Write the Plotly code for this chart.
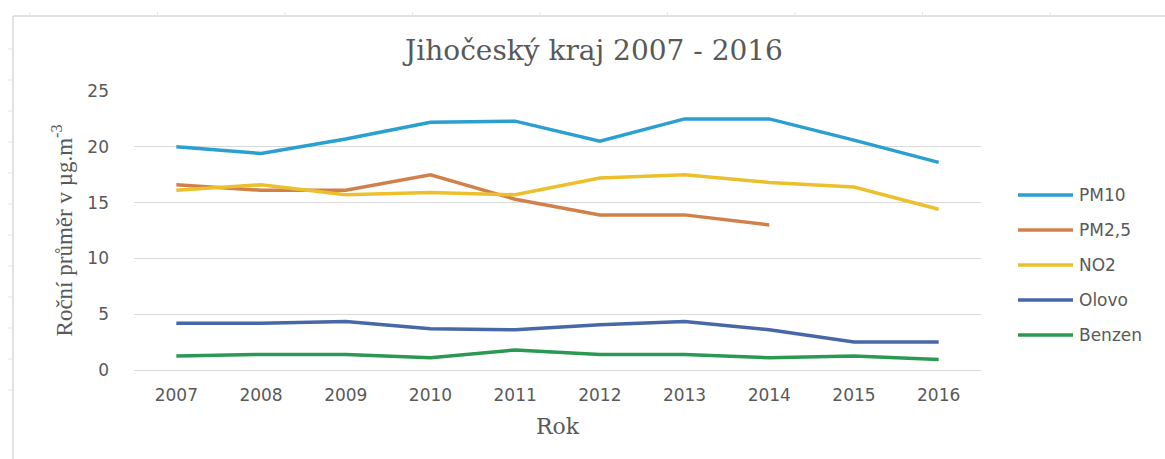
import plotly.graph_objects as go

# ---- data ----
years = ["2007", "2008", "2009", "2010", "2011", "2012", "2013", "2014", "2015", "2016"]
pm10 = [20.0, 19.4, 20.7, 22.2, 22.3, 20.5, 22.5, 22.5, 20.6, 18.6]
pm25 = [16.6, 16.1, 16.1, 17.5, 15.3, 13.9, 13.9, 13.0, None, None]
no2 = [16.1, 16.6, 15.7, 15.9, 15.7, 17.2, 17.5, 16.8, 16.4, 14.4]
olovo = [4.2, 4.2, 4.35, 3.7, 3.6, 4.05, 4.35, 3.6, 2.5, 2.5]
benzen = [1.25, 1.4, 1.4, 1.1, 1.8, 1.4, 1.4, 1.1, 1.25, 0.95]
series_names = ["PM10", "PM2,5", "NO2", "Olovo", "Benzen"]
series_values = [pm10, pm25, no2, olovo, benzen]
y_ticks = [0, 5, 10, 15, 20, 25]

colors = ["#2A9FD0", "#D2804A", "#EBC02C", "#4767A8", "#2B9853"]

W, H = 1165, 459
L, R, T, B = 134, 184, 91, 89
PW, PH = W - L - R, H - T - B


def px_x(px):
    return (px - L) / PW


def px_y(py):
    return (H - B - py) / PH


fig = go.Figure()
for name, vals, col in zip(series_names, series_values, colors):
    fig.add_trace(go.Scatter(
        x=years, y=vals, name=name, mode="lines",
        line=dict(color=col, width=3.5), showlegend=False,
    ))

grey = "#595959"
fig.update_layout(
    width=W, height=H,
    margin=dict(l=L, r=R, t=T, b=B),
    paper_bgcolor="white", plot_bgcolor="white",
    title=dict(text="Jihočeský kraj 2007 - 2016", x=594 / W, xanchor="center",
               y=1 - 50 / H, yanchor="middle",
               font=dict(family="DejaVu Serif", size=28, color=grey)),
    xaxis=dict(type="category", range=[-0.5, 9.5], showgrid=False, zeroline=False,
               showline=True, linecolor="#D9D9D9", linewidth=1, ticks="",
               tickfont=dict(family="DejaVu Sans", size=17, color=grey),
               ticklabelstandoff=10,
               title=dict(text="Rok", standoff=14,
                          font=dict(family="DejaVu Serif", size=22, color=grey))),
    yaxis=dict(range=[0, 25], tickvals=y_ticks, showgrid=True, gridcolor="#D9D9D9",
               gridwidth=1, zeroline=False, ticks="",
               tickfont=dict(family="DejaVu Sans", size=17, color=grey),
               ticklabelstandoff=24,
               title=dict(text="Roční průměr v µg.m<sup>-3</sup>", standoff=8,
                          font=dict(family="Liberation Serif", size=23, color=grey))),
)

# ---- custom legend (long line samples like the original) ----
leg_y = [195, 230, 265, 300, 335]
for name, col, ly in zip(series_names, colors, leg_y):
    fig.add_shape(type="line", xref="paper", yref="paper",
                  x0=px_x(1018), x1=px_x(1073), y0=px_y(ly), y1=px_y(ly),
                  line=dict(color=col, width=3.5))
    fig.add_annotation(text=name, xref="paper", yref="paper", x=px_x(1077), y=px_y(ly),
                       xanchor="left", yanchor="middle", showarrow=False,
                       font=dict(family="DejaVu Sans", size=17, color=grey))

# ---- sheet border with faint ruler ticks ----
border = "#D9D9D9"
fig.add_shape(type="line", xref="paper", yref="paper", x0=px_x(13), x1=px_x(W),
              y0=px_y(16), y1=px_y(16), line=dict(color=border, width=1.5))
fig.add_shape(type="line", xref="paper", yref="paper", x0=px_x(13), x1=px_x(13),
              y0=px_y(16), y1=px_y(H), line=dict(color=border, width=1.5))
for k in range(9):
    tx = 30 + 127.5 * k
    fig.add_shape(type="line", xref="paper", yref="paper", x0=px_x(tx), x1=px_x(tx),
                  y0=px_y(12), y1=px_y(17), line=dict(color="#E6E6E6", width=1))
for k in range(12):
    ty = 49 + 31 * k
    fig.add_shape(type="line", xref="paper", yref="paper", x0=px_x(8), x1=px_x(13),
                  y0=px_y(ty), y1=px_y(ty), line=dict(color="#E6E6E6", width=1))

fig.write_html("out.html")
